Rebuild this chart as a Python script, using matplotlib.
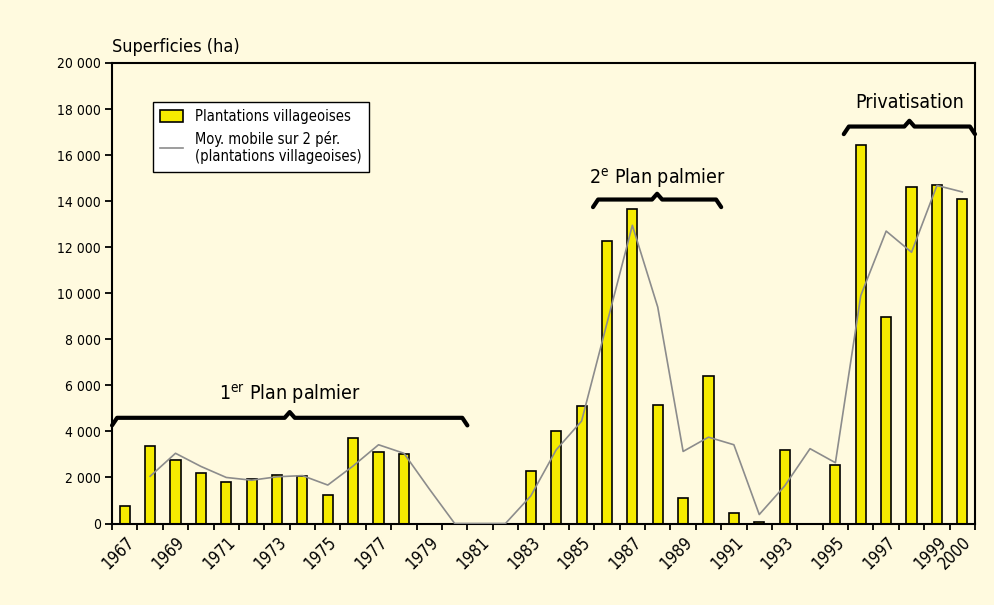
import numpy as np
import matplotlib
matplotlib.use('Agg')
import matplotlib.pyplot as plt

years = list(range(1967, 2001))
surfaces = [750, 3350, 2750, 2200, 1800, 1950, 2100, 2050, 1250, 3700, 3100, 3000,
            0, 0, 0, 0, 2300, 4000, 5100, 12250, 13650, 5150, 1100, 6400, 450, 80,
            3200, 0, 2550, 16450, 8950, 14600, 14700, 14100]
# moyenne mobile
mov_avg = [np.nan, 2050, 3050, 2480, 2000, 1880, 2030, 2080, 1670, 2500, 3420, 3050,
           1500, 0, 0, 0, 1200, 3200, 4450, 8700, 12950, 9400, 3130, 3750, 3420, 390,
           1630, 3250, 2640, 9900, 12700, 11780, 14680, 14400]
year_labels = [str(y) if (y % 2 == 1 or y == 2000) else '' for y in years]

# periodes (debut, fin en index de categorie)
periods = [('1$^{\\mathrm{er}}$ Plan palmier', -0.5, 13.5),
           ('2$^{\\mathrm{e}}$ Plan palmier', 18.45, 23.5),
           ('Privatisation', 28.33, 33.5)]

plt.rcParams['font.family'] = ['DejaVu Sans']
plt.rcParams['font.stretch'] = 'condensed'
plt.rcParams['mathtext.fontset'] = 'dejavusans'

BG = '#FFFADF'
fig = plt.figure(figsize=(9.95, 6.05), dpi=100, facecolor=BG)
ax = fig.add_axes([0.1126, 0.1347, 0.8673, 0.7612])
ax.set_facecolor(BG)

x = np.arange(len(years))
bars = ax.bar(x, surfaces, width=0.4, color='#F5EB00', edgecolor='black', linewidth=1.2,
              label='Plantations villageoises', zorder=2)
line, = ax.plot(x, mov_avg, color='#8c8c8c', linewidth=1.2, zorder=3,
                label='Moy. mobile sur 2 pér.\n(plantations villageoises)')

ax.set_xlim(-0.5, len(years) - 0.5)
ax.set_ylim(0, 20000)

yt = np.arange(0, 20001, 2000)
ax.set_yticks(yt)
ax.set_yticklabels([f'{v:,}'.replace(',', ' ') for v in yt], fontsize=10)
ax.tick_params(axis='y', direction='out', length=5, width=1.3, pad=3)

ax.set_xticks(np.arange(-0.5, len(years), 1.0))
ax.set_xticklabels([])
ax.tick_params(axis='x', which='major', direction='out', length=4, width=1.3)
ax.set_xticks(x, minor=True)
ax.set_xticklabels(year_labels, minor=True, rotation=45, ha='right',
                   rotation_mode='anchor', fontsize=12)
ax.tick_params(axis='x', which='minor', length=0, pad=7)

for s in ax.spines.values():
    s.set_linewidth(1.5)

ax.text(0.0, 1.015, 'Superficies (ha)', transform=ax.transAxes, fontsize=13,
        ha='left', va='bottom')

# accolades
hook = 330
bump = 250
brace_y = [4590, 14070, 17240]
text_y = [5600, 15000, 18280]
for (lab, x0, x1), by, ty in zip(periods, brace_y, text_y):
    xm = (x0 + x1) / 2
    dx = 0.2
    bx = [x0, x0 + dx, xm - dx, xm, xm + dx, x1 - dx, x1]
    byy = [by - hook, by, by, by + bump, by, by, by - hook]
    ax.plot(bx, byy, color='black', linewidth=3.0, solid_joinstyle='round',
            solid_capstyle='round', zorder=4, clip_on=False)
    ax.text(xm, ty, lab, ha='center', va='center', fontsize=14, zorder=5)

leg = ax.legend(handles=[bars, line], loc='upper left', bbox_to_anchor=(0.047, 0.915),
                borderaxespad=0, fancybox=False, edgecolor='black', facecolor='white',
                framealpha=1, fontsize=10.5, handlelength=1.6, handleheight=0.9,
                labelspacing=0.45, borderpad=0.5)
leg.get_frame().set_linewidth(1.0)

fig.savefig('out.png', dpi=100, facecolor=BG)
